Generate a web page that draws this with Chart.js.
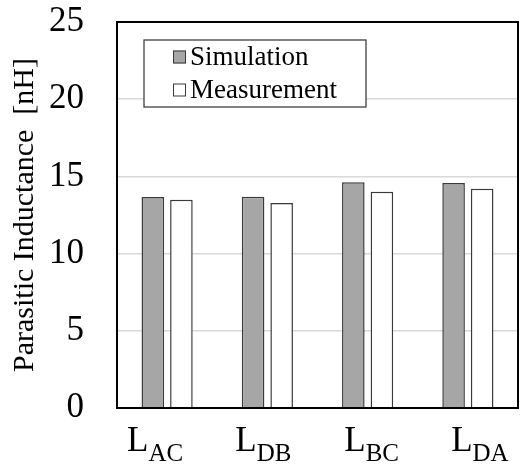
<!DOCTYPE html>
<html>
<head>
<meta charset="utf-8">
<script src="https://cdn.jsdelivr.net/npm/chart.js@4.4.1/dist/chart.umd.min.js"></script>
<style>
  html, body { margin: 0; padding: 0; background: #fff; }
  #chart { display: block; }
</style>
</head>
<body>
<canvas id="chart" width="521" height="468"></canvas>
<script>
// Daten
const categories = ['L_AC', 'L_DB', 'L_BC', 'L_DA'];
const simulation = [13.67, 13.69, 14.62, 14.57];
const measurement = [13.49, 13.28, 14.01, 14.2];
const yTicks = [0, 5, 10, 15, 20, 25];

const serif = "'Liberation Serif', 'Times New Roman', serif";

// Rahmen um den Plotbereich
const framePlugin = {
    id: 'frame',
    afterDatasetsDraw(chart) {
        const { ctx, chartArea: a } = chart;
        ctx.save();
        ctx.strokeStyle = '#000';
        ctx.lineWidth = 2;
        ctx.strokeRect(a.left, a.top, a.right - a.left, a.bottom - a.top);
        ctx.restore();
    }
};

// X-Beschriftung mit Tiefstellung
const subLabelPlugin = {
    id: 'subLabels',
    afterDraw(chart) {
        const { ctx, chartArea: a } = chart;
        const xs = chart.scales.x;
        const mid = (a.left + a.right) / 2;
        ctx.save();
        ctx.fillStyle = '#000';
        ctx.textBaseline = 'alphabetic';
        ctx.textAlign = 'left';
        categories.forEach((c, i) => {
            const [main, sub] = c.split('_');
            const x = mid + (xs.getPixelForTick(i) - mid) * 1.08;
            ctx.font = '35px ' + serif;
            const wMain = ctx.measureText(main).width;
            ctx.font = '25px ' + serif;
            const wSub = ctx.measureText(sub).width;
            const x0 = x - (wMain + wSub) / 2;
            ctx.font = '35px ' + serif;
            ctx.fillText(main, x0, a.bottom + 43);
            ctx.font = '25px ' + serif;
            ctx.fillText(sub, x0 + wMain, a.bottom + 53);
        });
        ctx.restore();
    }
};

// Legende im Plotbereich mit Rahmen
const boxLegendPlugin = {
    id: 'boxLegend',
    afterDraw(chart) {
        const { ctx, chartArea: a } = chart;
        const bx = a.left + 27, by = a.top + 18, bw = 222, bh = 67;
        ctx.save();
        ctx.fillStyle = '#fff';
        ctx.fillRect(bx, by, bw, bh);
        ctx.strokeStyle = '#404040';
        ctx.lineWidth = 1.3;
        ctx.strokeRect(bx, by, bw, bh);
        ctx.font = '27px ' + serif;
        ctx.textBaseline = 'middle';
        chart.data.datasets.forEach((ds, i) => {
            const cy = by + 17 + i * 33;
            ctx.fillStyle = ds.backgroundColor;
            ctx.fillRect(bx + 29, cy - 6.5, 13, 13);
            ctx.strokeStyle = ds.borderColor;
            ctx.lineWidth = 1;
            ctx.strokeRect(bx + 29.5, cy - 6, 12, 12);
            ctx.fillStyle = '#000';
            ctx.fillText(ds.label, bx + 46, cy + 1);
        });
        ctx.restore();
    }
};

new Chart(document.getElementById('chart').getContext('2d'), {
    type: 'bar',
    data: {
        labels: categories,
        datasets: [
            {
                label: 'Simulation',
                data: simulation,
                backgroundColor: '#a6a6a6',
                borderColor: '#3a3a3a',
                borderWidth: 1.5,
                categoryPercentage: 0.57,
                barPercentage: 0.79
            },
            {
                label: 'Measurement',
                data: measurement,
                backgroundColor: '#ffffff',
                borderColor: '#3a3a3a',
                borderWidth: 1.5,
                categoryPercentage: 0.57,
                barPercentage: 0.79
            }
        ]
    },
    options: {
        responsive: false,
        animation: false,
        layout: { padding: { top: 22, right: 3, left: 0, bottom: 0 } },
        plugins: {
            legend: { display: false },
            tooltip: { enabled: false }
        },
        scales: {
            x: {
                grid: { display: false },
                border: { display: false },
                ticks: { display: false },
                afterFit(scale) {
                    scale.height = 60;
                    scale.paddingLeft = 0;
                    scale.paddingRight = 0;
                }
            },
            y: {
                min: 0,
                max: 25,
                afterBuildTicks(scale) { scale.ticks = yTicks.map(v => ({ value: v })); },
                grid: { color: '#d9d9d9', lineWidth: 1.5, drawTicks: false },
                border: { display: false },
                ticks: {
                    color: '#000',
                    padding: 33,
                    font: { family: serif, size: 35 }
                },
                title: {
                    display: true,
                    text: 'Parasitic Inductance  [nH]',
                    color: '#000',
                    font: { family: serif, size: 30 },
                    padding: { top: 7, bottom: 0 }
                },
                afterFit(scale) {
                    scale.width = 117;
                    scale.paddingTop = 0;
                    scale.paddingBottom = 0;
                }
            }
        }
    },
    plugins: [framePlugin, subLabelPlugin, boxLegendPlugin]
});
</script>
</body>
</html>
